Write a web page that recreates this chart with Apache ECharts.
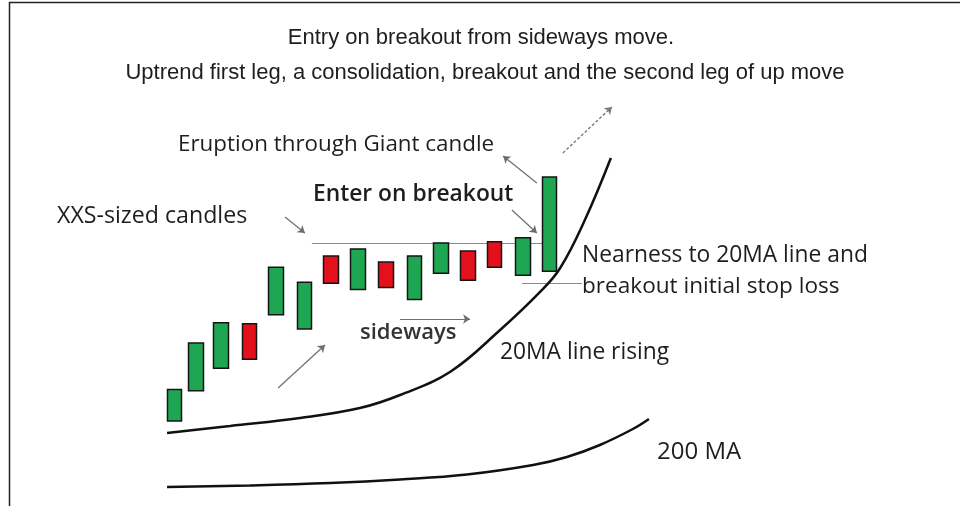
<!DOCTYPE html>
<html>
<head>
<meta charset="utf-8">
<script src="https://cdn.jsdelivr.net/npm/echarts@6/dist/echarts.min.js"></script>
<style>
  html, body { margin: 0; padding: 0; background: #fff; }
  #chart { width: 960px; height: 506px; }
</style>
</head>
<body>
<div id="chart"></div>
<script>
// candle positions (time units) and bodies
const candleX = [0, 0.8, 1.75, 2.8, 3.8, 4.85, 5.85, 6.85, 7.9, 8.95, 9.95, 10.95, 11.95, 13.0, 14.0];
const openVals = [8.4, 11.4, 13.6, 18.0, 18.9, 17.5, 24.7, 21.4, 24.1, 20.4, 23.0, 25.2, 26.1, 22.8, 23.2];
const closeVals = [11.5, 16.1, 18.1, 14.5, 23.6, 22.1, 22.0, 25.4, 21.6, 24.7, 26.0, 22.3, 23.6, 26.5, 32.5];

// moving averages
const ma20X = [-0.27, 2.08, 4.69, 6.92, 8.42, 10.28, 12.15, 13.64, 14.39, 15.31, 16.28];
const ma20Y = [7.21, 7.91, 8.70, 9.68, 10.97, 13.24, 17.39, 21.15, 23.52, 28.26, 34.39];
const ma200X = [-0.27, 2.82, 5.81, 8.42, 10.91, 13.38, 14.64, 15.87, 17.10, 17.70];
const ma200Y = [1.88, 2.03, 2.27, 2.62, 3.11, 4.05, 4.84, 6.03, 7.61, 8.60];

// guide lines: [x1, y1, x2, y2]
const resistance = [5.13, 25.99, 13.75, 25.99];
const stopLoss = [12.97, 22.04, 15.20, 22.04];

// arrows: [x1, y1, x2, y2] (head at the second point)
const arrows = [
  [4.13, 28.56, 4.87, 26.98],   // XXS-sized candles
  [3.87, 11.66, 5.62, 15.91],   // first leg
  [8.42, 18.48, 11.03, 18.48],  // sideways
  [12.59, 29.25, 13.52, 26.98], // enter on breakout
  [13.52, 31.92, 12.26, 34.58]  // eruption
];
const dashedArrow = [14.49, 34.88, 16.32, 39.43];

const chart = echarts.init(document.getElementById('chart'));

const candles = candleX.map((x, i) => {
  const o = openVals[i], c = closeVals[i];
  return [x, o, c, Math.min(o, c), Math.max(o, c)];
});
const zip = (xs, ys) => xs.map((x, i) => [x, ys[i]]);
const seg = (s) => ({ coords: [[s[0], s[1]], [s[2], s[3]]] });

const txt = '#1e1e1e';
const sans = '"Open Sans", "Noto Sans", sans-serif';
const narrow = '"Liberation Sans Narrow", "Liberation Sans", sans-serif';

const label = (text, x, y, font, fill) => ({
  type: 'text', x: x, y: y,
  style: { text: text, font: font, fill: fill || txt, verticalAlign: 'middle' }
});

const option = {
  animation: false,
  backgroundColor: '#fff',
  grid: { left: 0, right: 0, top: 0, bottom: 0 },
  xAxis: { type: 'value', min: -6.5, max: 29.3, show: false },
  yAxis: { type: 'value', min: 0, max: 50, show: false },
  series: [
    {
      type: 'line', data: zip(ma200X, ma200Y), smooth: 0.4, symbol: 'none',
      lineStyle: { color: '#111', width: 2.5 }
    },
    {
      type: 'line', data: zip(ma20X, ma20Y), smooth: 0.4, symbol: 'none',
      lineStyle: { color: '#111', width: 2.5 }
    },
    {
      type: 'lines', coordinateSystem: 'cartesian2d', symbol: 'none',
      data: [seg(resistance), seg(stopLoss)],
      lineStyle: { color: '#8a8a8a', width: 1.2, opacity: 1 }
    },
    {
      type: 'lines', coordinateSystem: 'cartesian2d',
      symbol: ['none', 'arrow'], symbolSize: 7,
      data: arrows.map(seg),
      lineStyle: { color: '#6e6e6e', width: 1.2, opacity: 1 }
    },
    {
      type: 'lines', coordinateSystem: 'cartesian2d',
      symbol: ['none', 'arrow'], symbolSize: 7,
      data: [seg(dashedArrow)],
      lineStyle: { color: '#7a7a7a', width: 1.4, type: [3, 2], opacity: 1 }
    },
    {
      type: 'candlestick', data: candles, barWidth: 15,
      itemStyle: {
        color: '#1fa652', color0: '#e4101c',
        borderColor: '#141414', borderColor0: '#141414', borderWidth: 1.5
      }
    }
  ],
  graphic: [
    { type: 'line', shape: { x1: 9, y1: 2.5, x2: 960, y2: 2.5 }, style: { stroke: '#222', lineWidth: 1.5 } },
    { type: 'line', shape: { x1: 9.5, y1: 2, x2: 9.5, y2: 506 }, style: { stroke: '#222', lineWidth: 1.5 } },
    { type: 'text', x: 481, y: 38, style: { text: 'Entry on breakout from sideways move.', font: '22px ' + narrow, fill: txt, align: 'center', verticalAlign: 'middle' } },
    { type: 'text', x: 485, y: 73, style: { text: 'Uptrend first leg, a consolidation, breakout and the second leg of up move', font: '22px ' + narrow, fill: txt, align: 'center', verticalAlign: 'middle' } },
    label('Eruption through Giant candle', 178, 145, '22.4px ' + sans),
    label('XXS-sized candles', 57, 216, '23.2px ' + sans),
    label('Enter on breakout', 313, 195, '600 22.8px ' + sans),
    label('Nearness to 20MA line and', 582, 256, '22.8px ' + sans),
    label('breakout initial stop loss', 582, 287, '22.6px ' + sans),
    label('20MA line rising', 500, 353, '22.8px ' + sans),
    label('sideways', 360, 333, '600 22px ' + sans, '#333'),
    label('200 MA', 657, 452, '24px ' + sans)
  ]
};

chart.setOption(option);
</script>
</body>
</html>
